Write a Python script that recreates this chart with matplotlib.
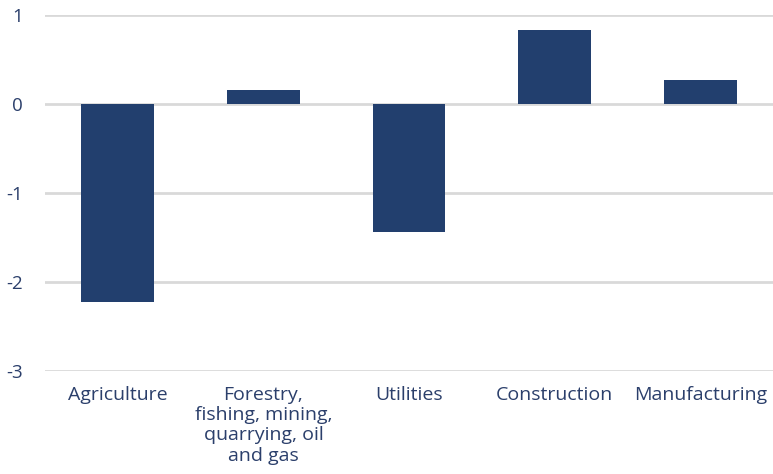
import matplotlib
matplotlib.use("Agg")
import matplotlib.pyplot as plt

categories = ["Agriculture", "Forestry,\nfishing, mining,\nquarrying, oil\nand gas",
              "Utilities", "Construction", "Manufacturing"]
values = [-2.23, 0.16, -1.44, 0.83, 0.27]
yticks = [-3, -2, -1, 0, 1]

bar_color = "#223F6E"
text_color = "#2B3F6B"
grid_color = "#D9D9D9"

plt.rcParams["font.family"] = ["Open Sans", "DejaVu Sans"]

W, H = 773, 474
fig = plt.figure(figsize=(W / 100, H / 100), dpi=100)
ax = fig.add_axes([45 / W, 1 - 371 / H, (773 - 45) / W, (371 - 15) / H])

x = list(range(len(categories)))
ax.bar(x, values, width=0.5, color=bar_color, zorder=3)

ax.set_xlim(-0.5, len(categories) - 0.5)
ax.set_ylim(-3, 1)
ax.set_yticks(yticks)
ax.set_yticklabels([str(t) for t in yticks])
ax.set_xticks(x)
ax.set_xticklabels(categories, linespacing=1.15)

ax.yaxis.grid(True, color=grid_color, linewidth=2, zorder=0)
ax.set_axisbelow(True)
for s in ax.spines.values():
    s.set_visible(False)

ax.tick_params(axis="both", length=0, labelcolor=text_color)
ax.tick_params(axis="y", pad=16, labelsize=13.5)
ax.tick_params(axis="x", pad=11, labelsize=14)

fig.savefig("out.png", dpi=100)
